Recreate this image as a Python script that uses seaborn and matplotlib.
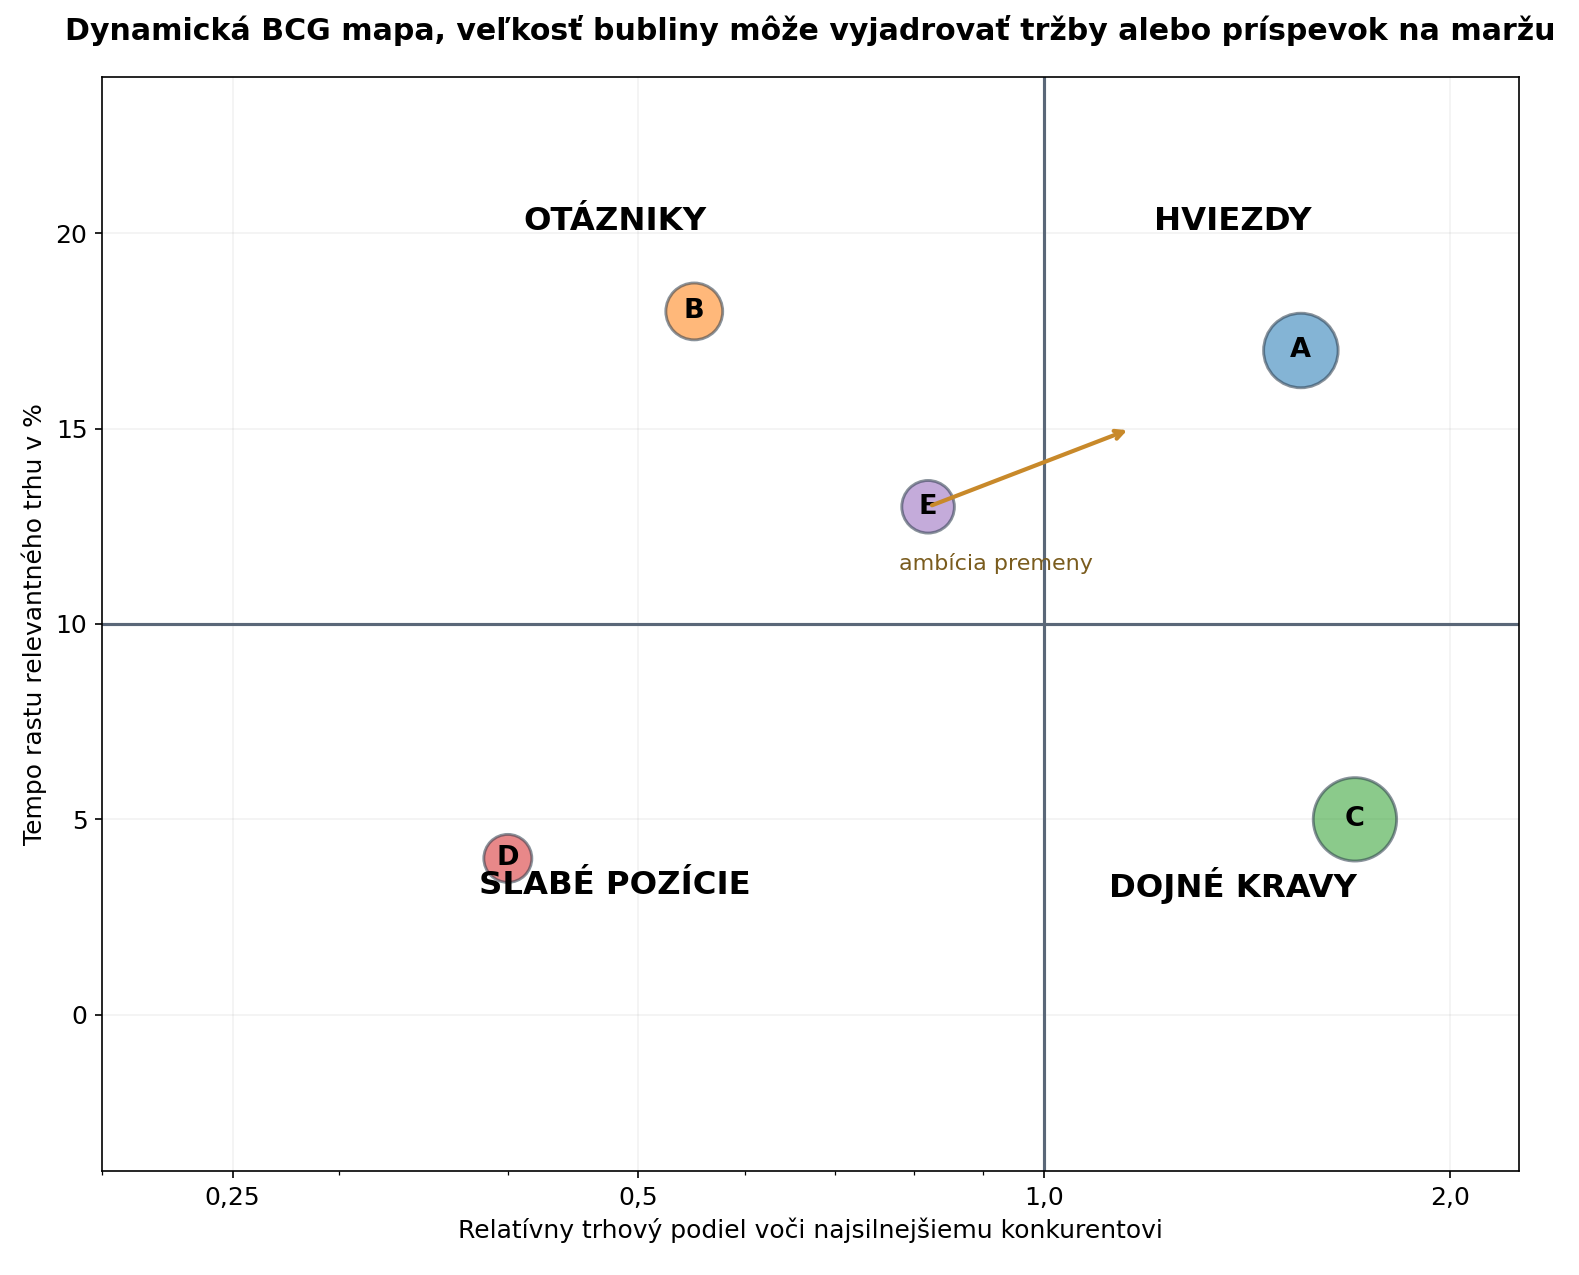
import pandas as pd
import matplotlib
matplotlib.use("Agg")
import matplotlib.pyplot as plt
import seaborn as sns
from matplotlib.ticker import FixedLocator, FuncFormatter, NullFormatter

# Dáta pre BCG mapu
jednotky = ['A', 'B', 'C', 'D', 'E']
relativny_podiel = [1.55, 0.55, 1.70, 0.40, 0.82]
tempo_rastu = [17, 18, 5, 4, 13]
trzby = [120, 70, 150, 50, 60]
farby = ['#1f77b4', '#ff7f0e', '#2ca02c', '#d62728', '#9467bd']

# ambícia premeny pre E
ciel_podiel = 1.16
ciel_rast = 15

kvadranty = ['OTÁZNIKY', 'HVIEZDY', 'SLABÉ POZÍCIE', 'DOJNÉ KRAVY']
kvadranty_x = [0.48, 1.38, 0.48, 1.38]
kvadranty_y = [20.3, 20.3, 3.3, 3.3]

x_ticky = [0.25, 0.5, 1.0, 2.0]

df = pd.DataFrame({
    'jednotka': jednotky,
    'podiel': relativny_podiel,
    'rast': tempo_rastu,
    'trzby': trzby,
})

fig, ax = plt.subplots(figsize=(10.527, 8.5), dpi=150)
fig.subplots_adjust(left=0.0646, right=0.962, bottom=0.0816, top=0.9396)

ax.set_xscale('log')
ax.set_xlim(0.2, 2.25)
ax.set_ylim(-4, 24)
ax.grid(True, alpha=0.16)
ax.set_axisbelow(True)

ax.axvline(1.0, color='#5a6778', lw=1.5, zorder=1)
ax.axhline(10, color='#5a6778', lw=1.5, zorder=1)

sns.scatterplot(data=df, x='podiel', y='rast', hue='jednotka', palette=farby,
                size='trzby', sizes=(530, 1600), alpha=0.55,
                edgecolor='#2a3a4a', linewidth=1.4, legend=False, ax=ax, zorder=3)

for j, x, y in zip(jednotky, relativny_podiel, tempo_rastu):
    ax.text(x, y, j, ha='center', va='center', fontsize=13, fontweight='bold', zorder=4)

for t, x, y in zip(kvadranty, kvadranty_x, kvadranty_y):
    ax.text(x, y, t, ha='center', va='center', fontsize=15.5, fontweight='bold', zorder=5)

ax.annotate('', xy=(ciel_podiel, ciel_rast), xytext=(relativny_podiel[4], tempo_rastu[4]),
            arrowprops=dict(arrowstyle='->', color='#c8892a', lw=2), zorder=4)
ax.text(0.92, 11.55, 'ambícia premeny', ha='center', va='center',
        fontsize=10.7, color='#7a5c1e')

ax.xaxis.set_major_locator(FixedLocator(x_ticky))
ax.xaxis.set_major_formatter(FuncFormatter(lambda v, p: str(v).replace('.', ',')))
ax.xaxis.set_minor_formatter(NullFormatter())
ax.tick_params(labelsize=12)

ax.set_xlabel('Relatívny trhový podiel voči najsilnejšiemu konkurentovi', fontsize=12)
ax.set_ylabel('Tempo rastu relevantného trhu v %', fontsize=12)
ax.set_title('Dynamická BCG mapa, veľkosť bubliny môže vyjadrovať tržby alebo príspevok na maržu',
             fontsize=14.4, fontweight='bold', pad=18)

fig.savefig('out.png', dpi=150)
